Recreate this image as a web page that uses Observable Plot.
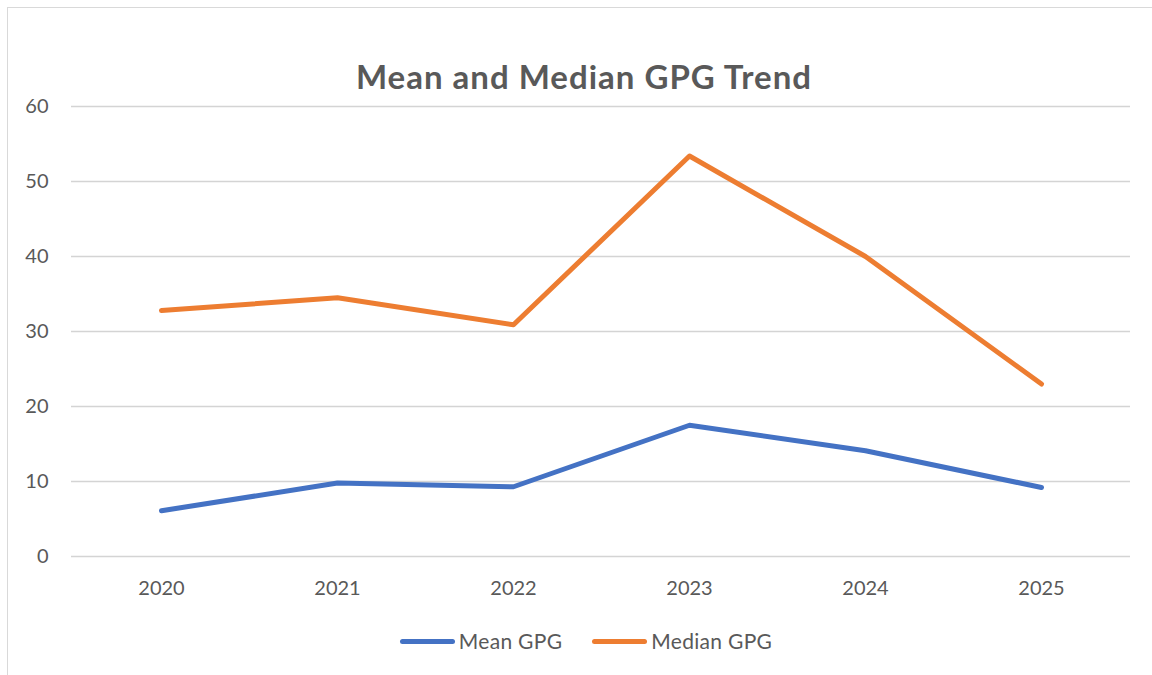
<!DOCTYPE html>
<html>
<head>
<meta charset="utf-8">
<script src="https://cdn.jsdelivr.net/npm/d3@7"></script>
<script src="https://cdn.jsdelivr.net/npm/@observablehq/plot@0.6"></script>
<style>
  html, body { margin: 0; padding: 0; background: #fff; width: 1152px; height: 675px; overflow: hidden; }
  body { position: relative; font-family: Lato, "Open Sans", sans-serif; color: #595959; }
  #frame { position: absolute; left: 7px; top: 7px; width: 1200px; height: 700px; border-left: 1px solid #d9d9d9; border-top: 1px solid #d9d9d9; }
  #title { position: absolute; left: 8px; top: 57px; width: 1152px; text-align: center; font-size: 33px; letter-spacing: 1px; font-weight: bold; line-height: 38px; color: #595959; }
  #chart { position: absolute; left: 0; top: 0; }
  #legend { position: absolute; left: 0; top: 628px; width: 1172px; display: flex; justify-content: center; gap: 30px; font-size: 21px; letter-spacing: 0.3px; line-height: 26px; }
  .item { display: flex; align-items: center; gap: 4px; }
  .sw { width: 55px; height: 5px; border-radius: 3px; }
</style>
</head>
<body>
<div id="frame"></div>
<div id="title">Mean and Median GPG Trend</div>
<div id="chart"></div>
<div id="legend"></div>
<script>
const years = ["2020", "2021", "2022", "2023", "2024", "2025"];
const meanGPG = [6.1, 9.8, 9.3, 17.5, 14.1, 9.2];
const medianGPG = [32.8, 34.5, 30.9, 53.4, 40.0, 23.0];
const seriesNames = ["Mean GPG", "Median GPG"];
const seriesColors = ["#4472C4", "#ED7D31"];
const yTicks = [0, 10, 20, 30, 40, 50, 60];

const table = [];
years.forEach((y, i) => table.push({year: y, value: meanGPG[i], series: seriesNames[0]}));
years.forEach((y, i) => table.push({year: y, value: medianGPG[i], series: seriesNames[1]}));

const plot = Plot.plot({
  width: 1152,
  height: 620,
  marginLeft: 71,
  marginRight: 22,
  marginTop: 106,
  marginBottom: 64,
  style: { fontFamily: "Lato, 'Open Sans', sans-serif", fontSize: "20px", color: "#595959", background: "transparent" },
  x: { type: "point", domain: years, padding: 0.5, label: null },
  y: { domain: [0, 60], ticks: yTicks, label: null },
  color: { domain: seriesNames, range: seriesColors },
  marks: [
    Plot.gridY(yTicks, { stroke: "#d4d4d4", strokeOpacity: 1, strokeWidth: 1.3 }),
    Plot.axisY(yTicks, { tickSize: 0, tickPadding: 23, label: null }),
    Plot.axisX({ tickSize: 0, tickPadding: 24, label: null }),
    Plot.line(table, { x: "year", y: "value", z: "series", stroke: "series", strokeWidth: 5, strokeLinecap: "round", strokeLinejoin: "round" })
  ]
});
document.getElementById("chart").appendChild(plot);

const legend = document.getElementById("legend");
seriesNames.forEach((name, i) => {
  const item = document.createElement("div");
  item.className = "item";
  const sw = document.createElement("div");
  sw.className = "sw";
  sw.style.background = seriesColors[i];
  const label = document.createElement("span");
  label.textContent = name;
  item.appendChild(sw);
  item.appendChild(label);
  legend.appendChild(item);
});
</script>
</body>
</html>
